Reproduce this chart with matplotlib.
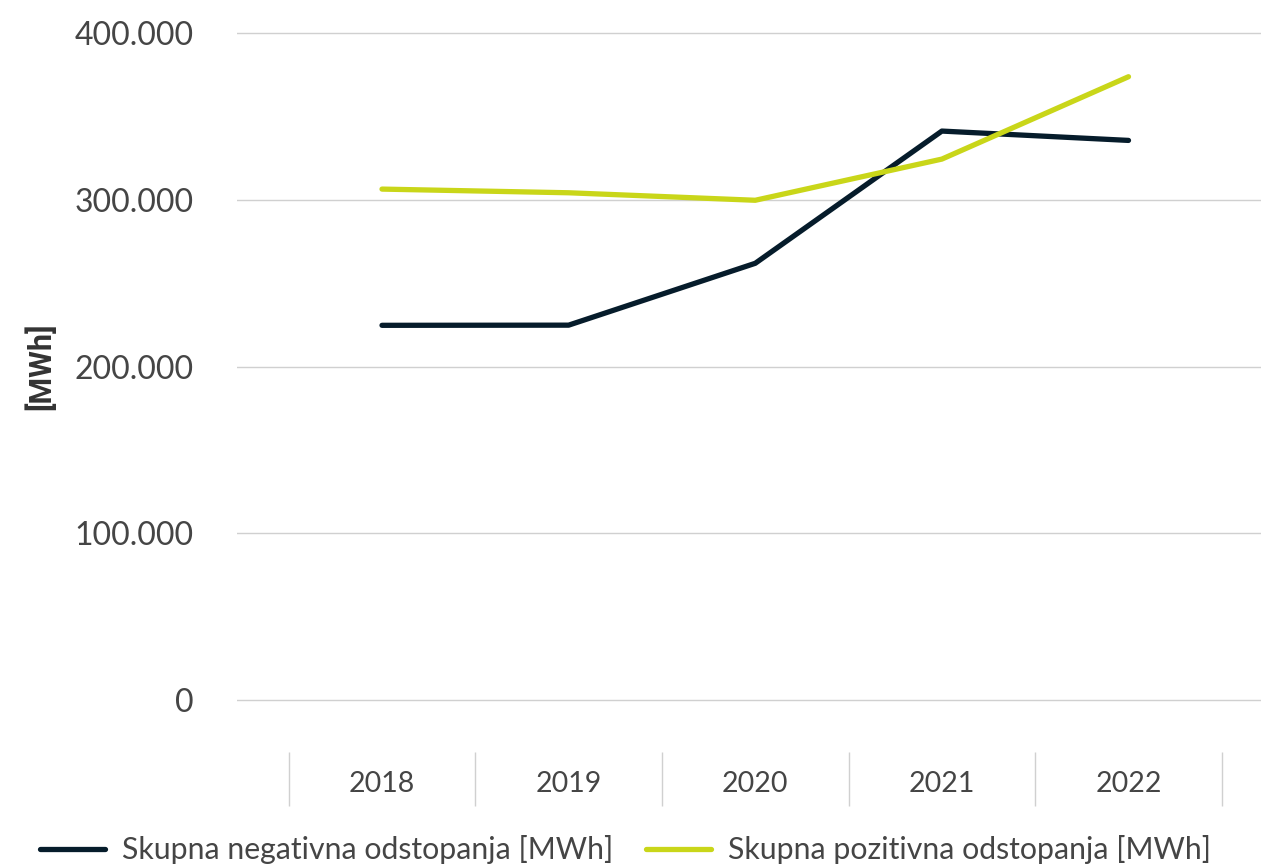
import numpy as np
import matplotlib
matplotlib.use("Agg")
import matplotlib.pyplot as plt

# data
years = ["2018", "2019", "2020", "2021", "2022"]
negative = [224700, 224800, 261900, 341200, 335600]
positive = [306400, 304200, 299700, 324400, 373800]
yticks = [0, 100000, 200000, 300000, 400000]
ytick_labels = ["0", "100.000", "200.000", "300.000", "400.000"]
labels = ("Skupna negativna odstopanja [MWh]", "Skupna pozitivna odstopanja [MWh]")

dark = "#061c2b"
green = "#c9d619"
text_col = "#454545"

plt.rcParams["font.family"] = ["Lato", "DejaVu Sans"]

fig = plt.figure(figsize=(12.61, 8.66), dpi=100)
ax = fig.add_axes([237 / 1261, 1 - 752 / 866, 1024 / 1261, (752 - 24.7) / 866])

x = np.arange(len(years))
l1, = ax.plot(x, negative, color=dark, lw=3.8, solid_capstyle="round",
              solid_joinstyle="round", zorder=3)
l2, = ax.plot(x, positive, color=green, lw=3.8, solid_capstyle="round",
              solid_joinstyle="round", zorder=3)

ax.set_xlim(-0.777, 4.71)
ax.set_ylim(-31200, 405000)
ax.set_yticks(yticks)
ax.set_yticklabels(ytick_labels)
ax.set_xticks(x)
ax.set_xticklabels(years)
ax.set_xticks(np.arange(len(years) + 1) - 0.5, minor=True)

ax.grid(axis="y", color="#d0d0d0", lw=1, zorder=0)
for s in ax.spines.values():
    s.set_visible(False)

ax.tick_params(axis="y", length=0, pad=31, labelsize=23, labelcolor=text_col)
ax.tick_params(axis="x", which="major", length=0, pad=14, labelsize=20.5,
               labelcolor=text_col)
ax.tick_params(axis="x", which="minor", length=39, width=1, color="#d0d0d0",
               direction="out")

fig.text(40 / 1261, 1 - 366 / 866, "[MWh]", rotation=90, ha="center",
         va="center", fontsize=22, fontweight="bold", color="#333333",
         family=["Roboto", "DejaVu Sans"])

fig.legend([l1, l2], labels, loc="center left",
           bbox_to_anchor=(40 / 1261, 1 - 850 / 866), ncol=2, frameon=False,
           fontsize=21.8, labelcolor=text_col, handlelength=2.15,
           handletextpad=0.55, columnspacing=1.1, borderpad=0, borderaxespad=0)

fig.savefig("out.png", dpi=100)
